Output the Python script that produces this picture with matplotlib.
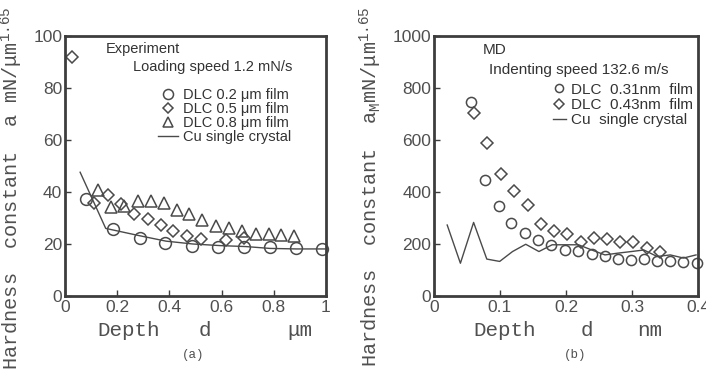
import numpy as np
import matplotlib
matplotlib.use("Agg")
import matplotlib.pyplot as plt

plt.rcParams['mathtext.fontset'] = 'custom'
plt.rcParams['mathtext.rm'] = 'Liberation Mono'
plt.rcParams['mathtext.it'] = 'Liberation Sans:italic'

# (a) experiment, depth in um, hardness constant in mN/um^1.65
exp_d_02 = [0.082, 0.182, 0.287, 0.383, 0.486, 0.586, 0.686, 0.787, 0.885, 0.986]
exp_a_02 = [37.4, 25.7, 22.4, 20.5, 19.4, 18.8, 18.8, 18.8, 18.6, 18.1]
exp_d_05 = [0.028, 0.112, 0.165, 0.214, 0.265, 0.317, 0.368, 0.415, 0.467, 0.522, 0.618, 0.686]
exp_a_05 = [91.9, 35.9, 38.9, 35.5, 31.4, 29.5, 27.2, 24.9, 23.2, 22.1, 21.4, 22.4]
exp_d_08 = [0.127, 0.176, 0.227, 0.278, 0.330, 0.378, 0.430, 0.477, 0.526, 0.577,
            0.627, 0.678, 0.731, 0.780, 0.827, 0.877]
exp_a_08 = [40.8, 34.2, 34.8, 36.5, 36.6, 35.6, 33.1, 31.7, 29.3, 27.0,
            26.0, 24.9, 24.0, 23.9, 23.4, 23.2]
exp_d_cu = [0.058, 0.156, 0.285, 0.387, 0.490, 0.592, 0.695, 0.785, 0.887, 0.996]
exp_a_cu = [47.6, 26.0, 23.2, 21.1, 20.0, 19.4, 19.0, 18.3, 18.1, 18.1]

# (b) MD, depth in nm
md_d_031 = [0.056, 0.077, 0.0985, 0.117, 0.138, 0.157, 0.177, 0.198, 0.218,
            0.239, 0.259, 0.279, 0.299, 0.318, 0.338, 0.358, 0.378, 0.398]
md_a_031 = [748, 445, 347, 282, 244, 217, 196, 177, 175,
            162, 152, 142, 138, 142, 133, 133, 130, 126]
md_d_043 = [0.061, 0.081, 0.102, 0.121, 0.142, 0.162, 0.182, 0.202,
            0.222, 0.242, 0.262, 0.282, 0.301, 0.322, 0.342]
md_a_043 = [703, 589, 468, 404, 349, 276, 251, 238,
            209, 222, 218, 207, 206, 184, 171]
md_d_cu = [0.020, 0.040, 0.060, 0.080, 0.0995, 0.119, 0.139, 0.159, 0.179, 0.199,
           0.219, 0.239, 0.259, 0.279, 0.299, 0.318, 0.338, 0.358, 0.378, 0.397]
md_a_cu = [273, 126, 283, 142, 133, 171, 199, 171, 197, 197,
           197, 177, 158, 165, 171, 177, 152, 158, 146, 158]

W, H = 706, 371
ink = '#3d3d3d'
mk = '#4a4a4a'


def px(x, y):
    return x / W, 1 - y / H


fig = plt.figure(figsize=(7.06, 3.71), dpi=100)
ax1 = fig.add_axes([65 / W, 75 / H, 261 / W, 260 / H])
ax2 = fig.add_axes([434 / W, 75 / H, 264 / W, 260 / H])

ax1.plot(exp_d_02, exp_a_02, 'o', ms=8.5, mfc='none', mec=mk, mew=1.1, clip_on=False,
         label='DLC 0.2 μm film')
ax1.plot(exp_d_05, exp_a_05, 'D', ms=6.3, mfc='none', mec=mk, mew=1.1, clip_on=False,
         label='DLC 0.5 μm film')
ax1.plot(exp_d_08, exp_a_08, '^', ms=9, mfc='none', mec=mk, mew=1.1, clip_on=False,
         label='DLC 0.8 μm film')
ax1.plot(exp_d_cu, exp_a_cu, '-', color=mk, lw=1.0, label='Cu single crystal')

ax2.plot(md_d_031, md_a_031, 'o', ms=7.3, mfc='none', mec=mk, mew=1.1, clip_on=False,
         label='DLC  0.31nm  film')
ax2.plot(md_d_043, md_a_043, 'D', ms=6.0, mfc='none', mec=mk, mew=1.1, clip_on=False,
         label='DLC  0.43nm  film')
ax2.plot(md_d_cu, md_a_cu, '-', color=mk, lw=1.0, label='Cu  single crystal')

ax1.set_xlim(0, 1)
ax1.set_ylim(0, 100)
ax1.set_xticks([0, 0.2, 0.4, 0.6, 0.8, 1])
ax1.set_xticklabels(['0', '0.2', '0.4', '0.6', '0.8', '1'])
ax1.set_yticks([0, 20, 40, 60, 80, 100])

ax2.set_xlim(0, 0.4)
ax2.set_ylim(0, 1000)
ax2.set_xticks([0, 0.1, 0.2, 0.3, 0.4])
ax2.set_xticklabels(['0', '0.1', '0.2', '0.3', '0.4'])
ax2.set_yticks([0, 200, 400, 600, 800, 1000])

for ax in (ax1, ax2):
    for s in ax.spines.values():
        s.set_linewidth(2.0)
        s.set_color(ink)
    ax.tick_params(direction='in', length=4, width=1, colors=ink, labelsize=12.5,
                   labelcolor='#505050')
    ax.tick_params(axis='y', pad=2)
    ax.tick_params(axis='x', pad=3)
    for lbl in ax.get_xticklabels() + ax.get_yticklabels():
        lbl.set_family('Liberation Sans')

ax1.legend(loc='upper left', bbox_to_anchor=(0.356, 0.80), frameon=False,
           prop={'family': 'Liberation Sans', 'size': 10.5}, labelspacing=0.0,
           handlelength=1.35, handletextpad=0.4, borderpad=0, borderaxespad=0,
           markerscale=0.85, labelcolor='#333333')
ax2.legend(loc='upper left', bbox_to_anchor=(0.449, 0.82), frameon=False,
           prop={'family': 'Liberation Sans', 'size': 11}, labelspacing=0.08,
           handlelength=0.9, handletextpad=0.3, borderpad=0, borderaxespad=0,
           markerscale=0.8, labelcolor='#333333')

sans = dict(family='Liberation Sans', color='#333333')
ax1.text(0.157, 0.95, 'Experiment', transform=ax1.transAxes, fontsize=10.5,
         va='center', ha='left', **sans)
ax1.text(0.261, 0.881, 'Loading speed 1.2 mN/s', transform=ax1.transAxes, fontsize=10.5,
         va='center', ha='left', **sans)
ax2.text(0.184, 0.946, 'MD', transform=ax2.transAxes, fontsize=11,
         va='center', ha='left', **sans)
ax2.text(0.21, 0.869, 'Indenting speed 132.6 m/s', transform=ax2.transAxes, fontsize=11,
         va='center', ha='left', **sans)

mono = dict(family='Liberation Mono', color='#505050')
# x axis labels, spread out like the original
fig.text(*px(97, 331), 'Depth', fontsize=15, ha='left', va='center', **mono)
fig.text(*px(205, 331), 'd', fontsize=15, ha='center', va='center', **mono)
fig.text(*px(300, 331), 'μm', fontsize=15, ha='center', va='center', **mono)
fig.text(*px(473, 331), 'Depth', fontsize=15, ha='left', va='center', **mono)
fig.text(*px(587, 331), 'd', fontsize=15, ha='center', va='center', **mono)
fig.text(*px(650, 331), 'nm', fontsize=15, ha='center', va='center', **mono)
fig.text(*px(193, 355), '(a)', fontsize=9, ha='center', va='center', **mono)
fig.text(*px(575, 355), '(b)', fontsize=9, ha='center', va='center', **mono)

# y axis labels, top sits just under the figure edge like the scan
fig.text(*px(12, 6), 'Hardness  constant  a mN/μm$^{1.65}$', fontsize=14.6,
         rotation=90, ha='center', va='top', **mono)
fig.text(*px(371, 6), 'Hardness  constant  a$_{\\rm M}$mN/μm$^{1.65}$', fontsize=14.6,
         rotation=90, ha='center', va='top', **mono)

fig.savefig('out.png', dpi=100)
